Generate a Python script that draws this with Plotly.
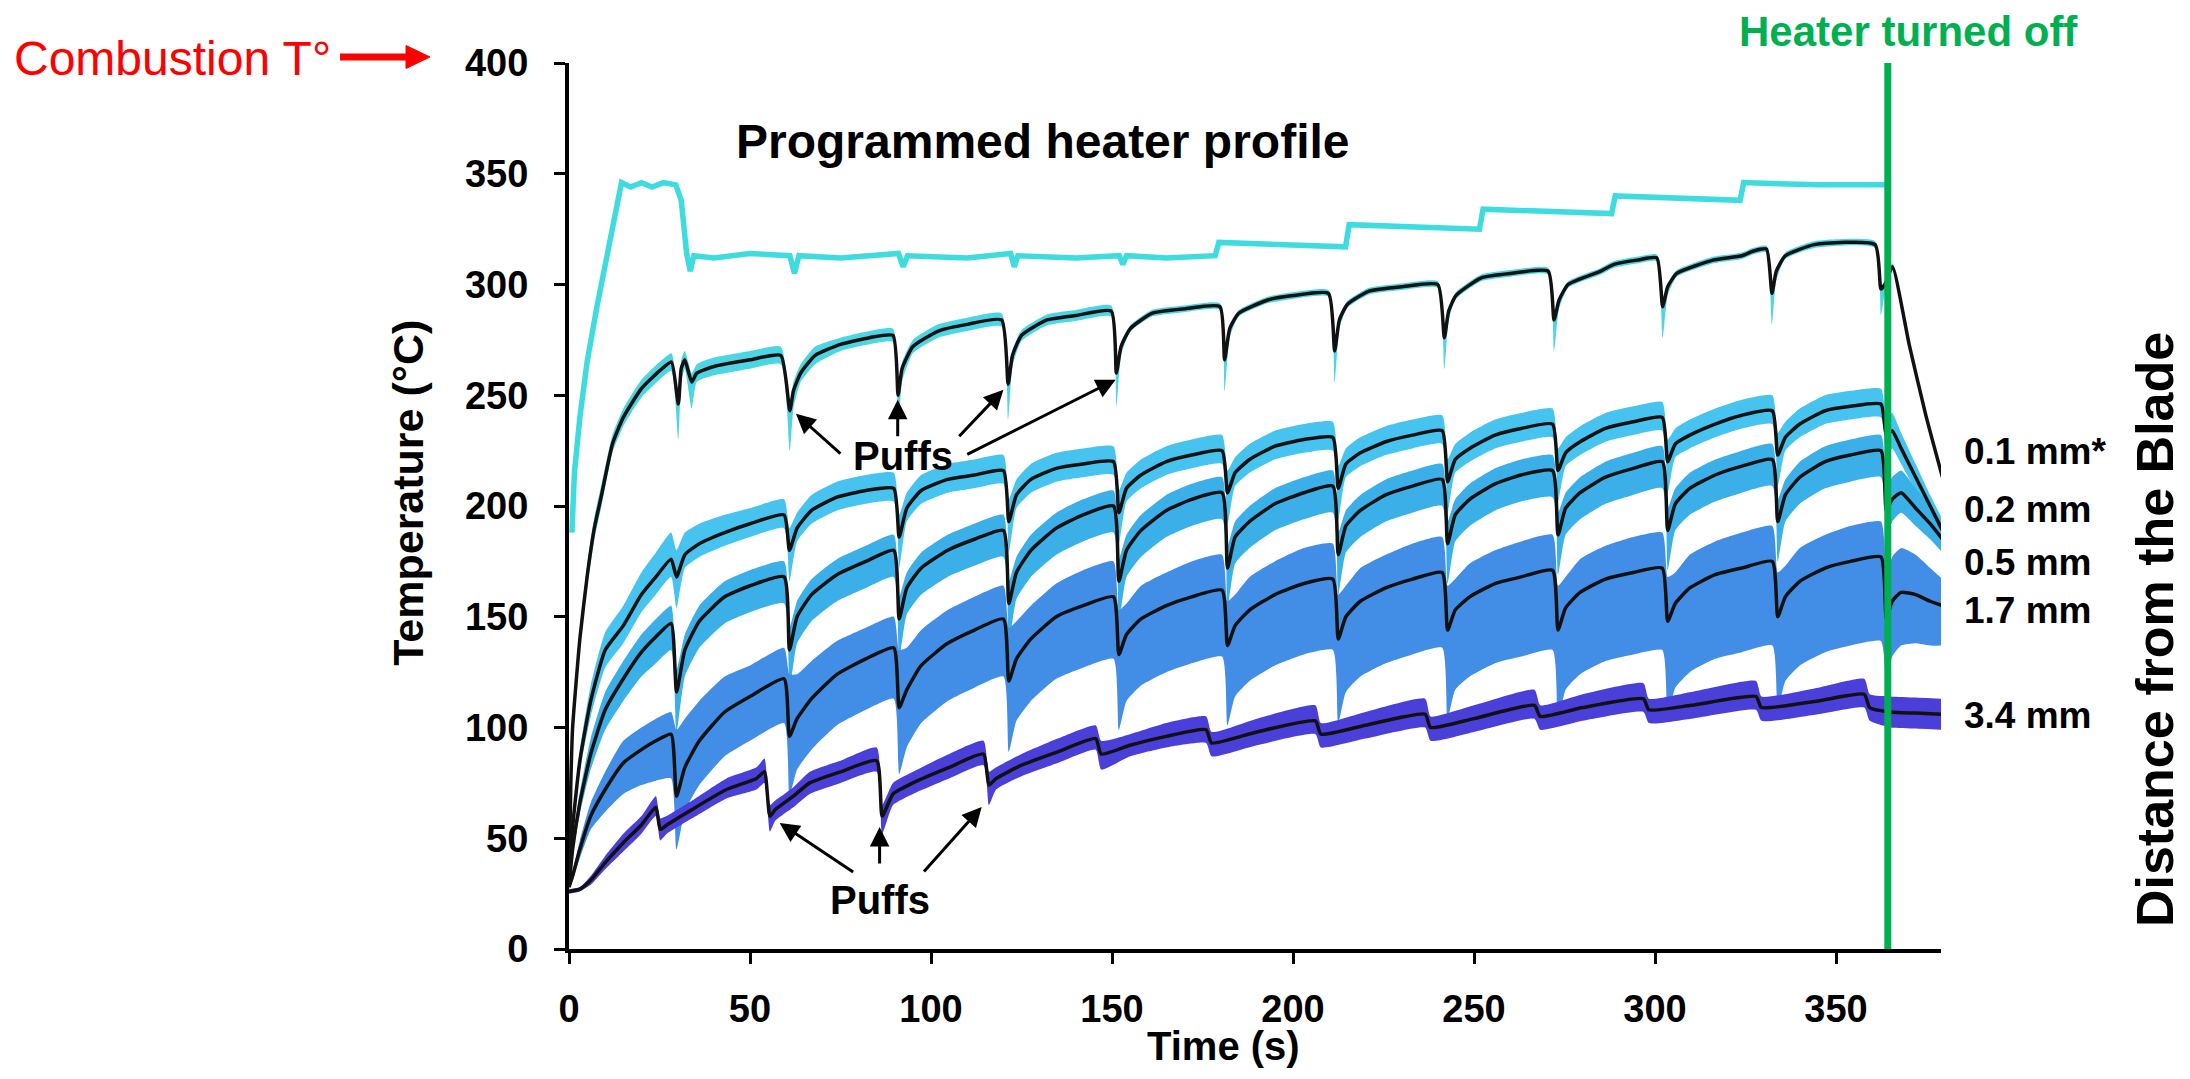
import plotly.graph_objects as go

FONT = "Liberation Sans, Arial, sans-serif"

# ---------------- Programmed heater profile ----------------
t_heater = [0.8, 1.5, 3, 5, 7.6, 10, 12.2, 14.5, 17, 20, 23, 26, 29.5, 31, 32.5, 33.5, 34.5,
            40, 50, 61, 62.3, 63.5, 75, 91, 92.3, 93.5, 110, 122, 123, 124, 140, 152, 153, 154,
            165, 178.5, 179.5, 195, 214.5, 215.5, 235, 251.5, 252.5, 270, 288, 289, 305,
            323.5, 324.5, 345, 364]
y_heater = [188, 215, 240, 265, 289, 310, 329, 346, 344, 346, 344, 346, 345, 338, 314, 306, 313,
            312, 314, 313, 305, 313, 312, 314, 308, 313, 312, 314, 308, 313, 312, 313, 309, 313,
            312, 313, 319, 318, 317, 327, 326, 325, 334, 333, 332, 340, 339,
            338, 346, 345, 345]

# ---------------- 0.1 mm* ----------------
t_01 = [0, 0.5, 1, 3, 5, 7, 9, 12, 15, 20, 25, 28.3,
        30.2, 31, 32, 33.9, 35.3, 40, 50, 58.5,
        61, 62, 64, 68, 75, 83, 89.5,
        90.9, 92, 95, 102, 110, 119.5,
        121.3, 122.5, 125, 132, 140, 149.8,
        151.2, 152.5, 155, 161, 170, 179.8,
        181.1, 182.5, 185, 193, 200, 209.8,
        211.5, 212.8, 215, 221, 230, 240,
        241.8, 243, 245, 252, 260, 270.5,
        272.1, 273.5, 276, 285, 288.5, 295, 300.5,
        302.1, 303.5, 306, 316, 324, 327, 330.8,
        332.3, 333.5, 336, 344, 360.8,
        362.4, 363.5, 365.6, 370.2, 374.8, 379.4]
y_01 = [30, 75, 100, 140, 168, 190, 205, 228, 240, 253, 261, 265,
        246, 262, 266, 256, 260, 263, 266, 268,
        243, 252, 260, 268, 273, 276, 277,
        250, 262, 272, 279, 282, 284,
        255, 268, 277, 284, 286, 288,
        260, 272, 280, 287, 289, 290,
        266, 280, 287, 293, 295, 296,
        270, 284, 291, 297, 299, 300,
        276, 288, 295, 303, 305, 306,
        284, 293, 300, 306, 309, 311, 312,
        290, 299, 305, 311, 313, 315, 316,
        296, 306, 313, 318, 318,
        298, 300, 308, 273, 241, 213]
up_01 = [1, 3, 4, 5, 5, 5, 5, 4, 4, 4, 4, 4,
         4, 4, 4, 4, 4, 4, 4, 4,
         4, 4, 4, 4, 3, 3, 3,
         3, 3, 3, 3, 3, 3,
         2.5, 2.5, 2.5, 2.5, 2.5, 2.5,
         1.5, 1.5, 1.5, 1.5, 1.5, 1.5,
         1.5, 1.5, 1.5, 1.5, 1.5, 1.5,
         1.5, 1.5, 1.5, 1.5, 1.5, 1.5,
         1.5, 1.5, 1.5, 1.5, 1.5, 1.5,
         1.5, 1.5, 1.5, 1.5, 1.5, 1.5, 1.5,
         1.5, 1.5, 1.5, 1.5, 1.5, 1.5, 1.5,
         1.5, 1.5, 1.5, 1.5, 1.5,
         1.5, 1.5, 1.5, 1, 1, 1]
dn_01 = [1, 3, 4, 5, 5, 5, 5, 4, 4, 4, 4, 4,
         16, 6, 4, 12, 4, 4, 4, 4,
         18, 8, 4, 4, 3, 3, 3,
         18, 6, 3, 3, 3, 3,
         16, 5, 2.5, 2.5, 2.5, 2.5,
         15, 4, 1.5, 1.5, 1.5, 1.5,
         14, 4, 1.5, 1.5, 1.5, 1.5,
         14, 4, 1.5, 1.5, 1.5, 1.5,
         14, 4, 1.5, 1.5, 1.5, 1.5,
         14, 4, 1.5, 1.5, 1.5, 1.5, 1.5,
         14, 4, 1.5, 1.5, 1.5, 1.5, 1.5,
         14, 4, 1.5, 1.5, 1.5,
         12, 4, 1.5, 1, 1, 1]

# ---------------- 0.2 / 0.5 / 1.7 mm (shared time grid) ----------------
t_mid = [0, 1, 3, 6, 10, 15, 20, 24, 28.2,
         29.7, 32, 36, 43, 50, 59.4,
         60.9, 63, 67, 74, 82, 89.7,
         91.2, 93.3, 97.3, 104.6, 112, 120.0,
         121.5, 123.6, 127.6, 134.6, 142, 150.4,
         151.9, 154, 158, 165, 172, 180.4,
         181.9, 184, 188, 195, 203, 211.0,
         212.5, 214.6, 218.6, 225.6, 233, 241.2,
         242.7, 244.8, 248.8, 255.8, 263, 271.7,
         273.2, 275.3, 279.3, 286.3, 294, 302.0,
         303.5, 305.6, 309.6, 316.6, 324, 332.4,
         333.9, 336, 340, 347, 354, 362.4,
         363.9, 365.5, 368, 372, 376, 379.4]

y_02 = [28, 55, 85, 112, 135, 146, 160, 168, 176,
        168, 178, 183, 188, 192, 196,
        180, 190, 198, 204, 207, 208,
        186, 199, 207, 212, 214, 216,
        193, 205, 212, 217, 219, 220,
        197, 208, 214, 220, 223, 225,
        206, 215, 221, 227, 230, 231,
        208, 219, 224, 229, 232, 234,
        211, 221, 226, 232, 235, 237,
        216, 224, 229, 235, 238, 240,
        220, 228, 232, 237, 241, 243,
        223, 231, 237, 243, 245, 246,
        232, 234, 226, 213, 200, 189]
up_02 = [1, 3, 5, 7, 8, 9, 10, 11, 12,
         12, 10, 9, 8, 7, 7,
         10, 7, 7, 7, 7, 7,
         10, 7, 7, 7, 7, 7,
         10, 7, 7, 7, 7, 7,
         10, 7, 7, 7, 7, 7,
         10, 7, 7, 7, 7, 7,
         10, 7, 7, 7, 7, 7,
         10, 7, 7, 7, 7, 7,
         10, 7, 7, 7, 7, 7,
         10, 7, 7, 7, 7, 7,
         10, 7, 7, 7, 7, 7,
         8, 8, 7, 6, 5, 5]
dn_02 = [1, 3, 5, 7, 8, 8, 8, 8, 8,
         14, 6, 6, 6, 6, 6,
         14, 6, 6, 6, 6, 6,
         14, 6, 6, 6, 6, 6,
         14, 6, 6, 6, 6, 6,
         14, 6, 6, 6, 6, 6,
         14, 6, 6, 6, 6, 6,
         14, 6, 6, 6, 6, 6,
         14, 6, 6, 6, 6, 6,
         14, 6, 6, 6, 6, 6,
         14, 6, 6, 6, 6, 6,
         14, 6, 6, 6, 6, 6,
         12, 8, 7, 6, 5, 5]

y_05 = [28, 45, 66, 88, 108, 122, 134, 141, 147,
        116, 135, 148, 159, 164, 168,
        135, 150, 160, 169, 175, 180,
        149, 163, 172, 180, 185, 189,
        156, 170, 180, 190, 196, 200,
        166, 180, 189, 198, 203, 206,
        172, 186, 193, 201, 206, 209,
        178, 191, 198, 205, 209, 212,
        183, 196, 203, 210, 214, 216,
        187, 199, 206, 213, 217, 220,
        189, 201, 208, 214, 218, 221,
        193, 205, 213, 220, 223, 225,
        198, 203, 206, 199, 192, 185]
up_05 = [1, 3, 5, 7, 8, 8, 8, 8, 8,
         10, 7, 7, 7, 7, 7,
         10, 7, 7, 7, 7, 7,
         10, 7, 7, 7, 7, 7,
         10, 7, 7, 7, 7, 7,
         10, 7, 7, 7, 7, 7,
         10, 7, 7, 7, 7, 7,
         10, 7, 7, 7, 7, 7,
         10, 7, 7, 7, 7, 7,
         10, 7, 7, 7, 7, 7,
         10, 7, 7, 7, 7, 7,
         10, 7, 7, 7, 7, 7,
         10, 10, 10, 9, 8, 7]
dn_05 = [1, 3, 5, 7, 9, 10, 11, 12, 12,
         18, 12, 12, 12, 12, 12,
         18, 12, 12, 12, 12, 12,
         18, 12, 12, 12, 12, 12,
         18, 12, 12, 12, 12, 12,
         18, 12, 12, 12, 12, 12,
         18, 12, 12, 12, 12, 12,
         18, 12, 12, 12, 12, 12,
         18, 12, 12, 12, 12, 12,
         18, 12, 12, 12, 12, 12,
         18, 12, 12, 12, 12, 12,
         18, 12, 12, 12, 12, 12,
         14, 10, 9, 8, 7, 6]

y_17 = [28, 33, 45, 60, 72, 84, 90, 94, 97,
        69, 82, 94, 107, 114, 122,
        96, 104, 113, 124, 131, 136,
        109, 117, 128, 138, 144, 149,
        121, 131, 140, 150, 155, 159,
        133, 142, 149, 155, 159, 162,
        137, 146, 153, 160, 165, 167,
        140, 150, 157, 163, 167, 170,
        144, 153, 159, 165, 168, 171,
        144, 154, 161, 167, 170, 172,
        148, 156, 163, 169, 172, 175,
        150, 159, 166, 172, 175, 177,
        149, 157, 161, 160, 157, 155]
up_17 = [1, 2, 4, 6, 8, 10, 10, 10, 10,
         30, 22, 18, 16, 14, 14,
         28, 20, 17, 15, 14, 14,
         26, 19, 16, 15, 15, 15,
         24, 17, 15, 15, 16, 16,
         20, 14, 15, 15, 16, 16,
         20, 14, 15, 15, 16, 16,
         20, 14, 15, 15, 16, 16,
         20, 14, 15, 15, 16, 16,
         20, 14, 15, 15, 16, 16,
         20, 14, 15, 15, 16, 16,
         20, 14, 15, 15, 16, 16,
         18, 20, 20, 18, 15, 12]
dn_17 = [1, 2, 4, 6, 10, 14, 16, 18, 20,
         24, 20, 20, 20, 20, 20,
         27, 23, 23, 23, 23, 23,
         30, 26, 26, 26, 26, 26,
         32, 28, 28, 28, 28, 28,
         34, 30, 30, 30, 30, 30,
         36, 32, 32, 32, 32, 32,
         38, 34, 34, 34, 34, 34,
         40, 36, 36, 36, 36, 36,
         41, 37, 37, 37, 37, 37,
         42, 38, 38, 38, 38, 38,
         42, 38, 38, 38, 38, 38,
         30, 25, 24, 22, 20, 18]

# ---------------- 3.4 mm ----------------
t_34 = [0, 3, 6, 10, 15, 20, 24, 25.2, 27, 34, 43.5, 51.8, 54,
        55.5, 57, 62, 66.5, 75, 85,
        86.5, 89.5, 95, 105, 114.5,
        116, 118, 125, 135, 145.5,
        147, 155, 165, 176,
        177.5, 190, 206.2,
        207.7, 220, 236.5,
        238, 250, 266.7,
        268.3, 280, 296.8,
        298.3, 310, 327.9,
        329.4, 345, 357.8,
        359.3, 365, 372, 379.4]
y_34 = [26, 27, 31, 39, 48, 56, 64, 54, 56, 63, 72, 77, 80,
        60, 63, 69, 75, 80, 85,
        60, 70, 75, 82, 88,
        74, 77, 83, 89, 95,
        88, 92, 96, 99,
        93, 98, 103,
        97, 101, 106,
        100, 104, 110,
        105, 109, 113,
        108, 110, 114,
        109, 112, 115,
        109, 107, 106.5, 106]
up_34 = [1, 1, 2, 3, 4, 4, 5, 5, 4, 4, 5, 5, 6,
         5, 4, 4, 5, 5, 6,
         5, 5, 5, 6, 6,
         6, 5, 5, 6, 6,
         6, 5, 6, 6,
         5, 6, 7,
         5, 6, 7,
         5, 6, 7,
         5, 6, 7,
         5, 6, 7,
         5, 6, 7,
         6, 7, 7, 7]
dn_34 = [1, 1, 2, 3, 4, 4, 4, 5, 4, 4, 4, 5, 5,
         7, 5, 5, 5, 5, 5,
         8, 5, 5, 5, 5,
         9, 5, 5, 5, 5,
         7, 5, 5, 6,
         6, 6, 6,
         6, 6, 6,
         6, 6, 6,
         6, 6, 6,
         6, 6, 6,
         6, 6, 6,
         6, 7, 7, 7]

HEATER_OFF = 364.3

C_HEATER = "#3FDCDF"
C_01 = "#4CD6E3"
C_02 = "#46C4EF"
C_05 = "#3BB0E8"
C_17 = "#428EE7"
C_34 = "#4B3FDA"

fig = go.Figure()


def add_band(t, y, up, dn, color):
    lo = [a - b for a, b in zip(y, dn)]
    hi = [a + b for a, b in zip(y, up)]
    fig.add_trace(go.Scatter(x=t, y=lo, mode="lines",
                             line=dict(width=0, color=color, shape="spline", smoothing=0.5),
                             hoverinfo="skip", showlegend=False))
    fig.add_trace(go.Scatter(x=t, y=hi, mode="lines", fill="tonexty", fillcolor=color,
                             line=dict(width=0, color=color, shape="spline", smoothing=0.5),
                             hoverinfo="skip", showlegend=False))


fig.add_trace(go.Scatter(x=t_heater, y=y_heater, mode="lines",
                         line=dict(color=C_HEATER, width=5.5), showlegend=False,
                         name="Programmed heater profile"))

add_band(t_01, y_01, up_01, dn_01, C_01)
add_band(t_mid, y_02, up_02, dn_02, C_02)
add_band(t_mid, y_05, up_05, dn_05, C_05)
add_band(t_mid, y_17, up_17, dn_17, C_17)
add_band(t_34, y_34, up_34, dn_34, C_34)

for tt, yy, nm in [(t_01, y_01, "0.1 mm*"), (t_mid, y_02, "0.2 mm"), (t_mid, y_05, "0.5 mm"),
                   (t_mid, y_17, "1.7 mm"), (t_34, y_34, "3.4 mm")]:
    fig.add_trace(go.Scatter(x=tt, y=yy, mode="lines", name=nm,
                             line=dict(color="#111111", width=3.5, shape="spline", smoothing=0.5),
                             showlegend=False))

# Heater turned off line
fig.add_shape(type="line", xref="x", yref="y", x0=HEATER_OFF, x1=HEATER_OFF, y0=0, y1=400,
              line=dict(color="#00B050", width=7), layer="above")

annotations = []


def txt(x, y, s, size, color="black", xref="paper", yref="paper", xanchor="center",
        yanchor="middle", angle=0, bold=True):
    annotations.append(dict(x=x, y=y, xref=xref, yref=yref, text=("<b>%s</b>" % s) if bold else s,
                            showarrow=False, xanchor=xanchor, yanchor=yanchor, textangle=angle,
                            font=dict(family=FONT, size=size, color=color)))


txt(130.8, 364.7, "Programmed heater profile", 48, xref="x", yref="y")
txt(92.2, 222.7, "Puffs", 40, xref="x", yref="y")
txt(85.8, 22.1, "Puffs", 40, xref="x", yref="y")
txt(1.1013, 1.0355, "Heater turned off", 42, color="#00B050", xanchor="right")
txt(-0.172, 1.0056, "Combustion T°", 48, color="#FF0000", xanchor="right", bold=False)

# right-side labels
for lab, yv in [("0.1 mm*", 0.561), ("0.2 mm", 0.4955), ("0.5 mm", 0.4357),
                ("1.7 mm", 0.3826), ("3.4 mm", 0.2641)]:
    txt(1.0153, yv, lab, 37, xanchor="left")

# axis titles
txt(0.4774, -0.1095, "Time (s)", 40)
txt(-0.1173, 0.515, "Temperature (°C)", 43, angle=-90)
txt(1.156, 0.36, "Distance from the Blade", 52, angle=-90)

# puff arrows (tail -> tip)
arrows = [((75.4, 223), (62.7, 241.6)), ((90.8, 230.8), (90.8, 248)),
          ((107.4, 230.8), (120, 252.5)), ((109.6, 223), (151, 257)),
          ((78.9, 34.3), (58.2, 56.9)), ((85.8, 37.9), (85.8, 55.1)),
          ((97.7, 34.3), (114, 64.1))]
for (ax_, ay_), (x_, y_) in arrows:
    annotations.append(dict(x=x_, y=y_, xref="x", yref="y", ax=ax_, ay=ay_, axref="x", ayref="y",
                            text="", showarrow=True, arrowhead=2, arrowsize=1.3, arrowwidth=3,
                            arrowcolor="black", standoff=0, startstandoff=0))

# red arrow next to "Combustion T°" (paper coords)
fig.add_shape(type="line", xref="paper", yref="paper", x0=-0.1669, x1=-0.117, y0=1.0068, y1=1.0068,
              line=dict(color="#FF0000", width=7))
fig.add_shape(type="path", xref="paper", yref="paper",
              path="M -0.1188 1.0197 L -0.1013 1.0068 L -0.1188 0.9938 Z",
              fillcolor="#FF0000", line=dict(color="#FF0000", width=1))

# the page body keeps an 8 px default margin, so the figure is 8 px smaller
fig.update_layout(
    width=2182, height=1071, autosize=False,
    margin=dict(l=561, r=249, t=55, b=130),
    paper_bgcolor="white", plot_bgcolor="white",
    annotations=annotations,
    showlegend=False,
    font=dict(family=FONT, color="black"),
)
fig.update_xaxes(range=[0, 379], tickvals=[0, 50, 100, 150, 200, 250, 300, 350],
                 showline=True, linecolor="black", linewidth=4, ticks="outside", ticklen=11,
                 tickwidth=3, tickcolor="black", showgrid=False, zeroline=False,
                 ticklabelstandoff=12,
                 tickfont=dict(family=FONT, size=38, color="black", weight="bold"))
fig.update_yaxes(range=[0, 400], tickvals=[0, 50, 100, 150, 200, 250, 300, 350, 400],
                 showline=True, linecolor="black", linewidth=4, ticks="outside", ticklen=11,
                 tickwidth=3, tickcolor="black", showgrid=False, zeroline=False,
                 ticklabelstandoff=18,
                 tickfont=dict(family=FONT, size=38, color="black", weight="bold"))

fig.write_html("out.html")
